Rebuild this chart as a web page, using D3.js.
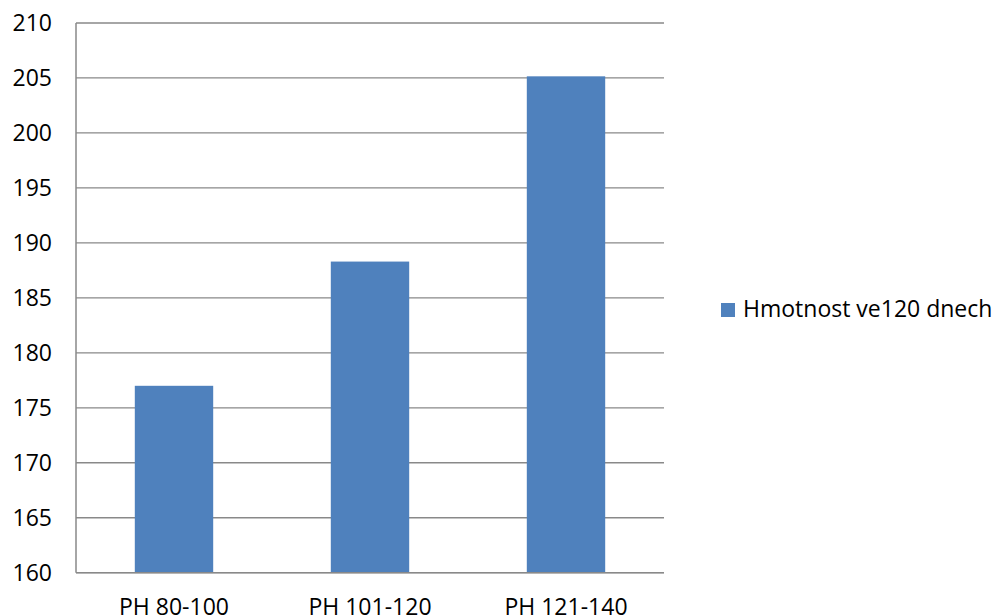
<!DOCTYPE html>
<html>
<head>
<meta charset="utf-8">
<script src="https://cdn.jsdelivr.net/npm/d3@7"></script>
<style>
  html, body { margin: 0; padding: 0; background: #fff; }
  svg { display: block; }
  text { font-family: "Open Sans", "Liberation Sans", sans-serif; fill: #000; }
</style>
</head>
<body>
<svg id="chart" width="996" height="616"></svg>
<script>
// Weight at 120 days by birth-weight group
const categories = ["PH 80-100", "PH 101-120", "PH 121-140"];
const values = [177.0, 188.3, 205.15];
const seriesName = "Hmotnost ve120 dnech";
const yTicks = [160, 165, 170, 175, 180, 185, 190, 195, 200, 205, 210];

const svg = d3.select("#chart");
const plot = { left: 76, right: 664, top: 23, bottom: 572.7 };

const x = d3.scaleBand()
  .domain(categories)
  .range([plot.left, plot.right])
  .paddingInner(0.6)
  .paddingOuter(0.3);

const y = d3.scaleLinear()
  .domain([160, 210])
  .range([plot.bottom, plot.top]);

// Horizontal gridlines
svg.append("g")
  .selectAll("line")
  .data(yTicks)
  .join("line")
  .attr("x1", plot.left)
  .attr("x2", plot.right)
  .attr("y1", d => y(d))
  .attr("y2", d => y(d))
  .attr("stroke", "#898989")
  .attr("stroke-width", 1.3);

// Bars
svg.append("g")
  .selectAll("rect")
  .data(values)
  .join("rect")
  .attr("x", (d, i) => x(categories[i]))
  .attr("y", d => y(d))
  .attr("width", x.bandwidth())
  .attr("height", d => y(160) - y(d))
  .attr("fill", "#4F81BD");

// Axis lines
svg.append("line")
  .attr("x1", plot.left).attr("x2", plot.left)
  .attr("y1", plot.top).attr("y2", plot.bottom)
  .attr("stroke", "#898989").attr("stroke-width", 1.5);
svg.append("line")
  .attr("x1", plot.left).attr("x2", plot.right)
  .attr("y1", plot.bottom).attr("y2", plot.bottom)
  .attr("stroke", "#898989").attr("stroke-width", 1.5);

// Y tick labels
svg.append("g")
  .selectAll("text")
  .data(yTicks)
  .join("text")
  .attr("x", 52)
  .attr("y", d => y(d))
  .attr("dy", "0.35em")
  .attr("text-anchor", "end")
  .attr("font-size", 23)
  .text(d => d);

// X category labels
svg.append("g")
  .selectAll("text")
  .data(categories)
  .join("text")
  .attr("x", d => x(d) + x.bandwidth() / 2)
  .attr("y", 615)
  .attr("text-anchor", "middle")
  .attr("font-size", 23)
  .text(d => d);

// Legend
const legend = svg.append("g");
legend.append("rect")
  .attr("x", 721).attr("y", 303)
  .attr("width", 14).attr("height", 14)
  .attr("fill", "#4F81BD");
legend.append("text")
  .attr("x", 743).attr("y", 317)
  .attr("font-size", 23)
  .text(seriesName);
</script>
</body>
</html>
